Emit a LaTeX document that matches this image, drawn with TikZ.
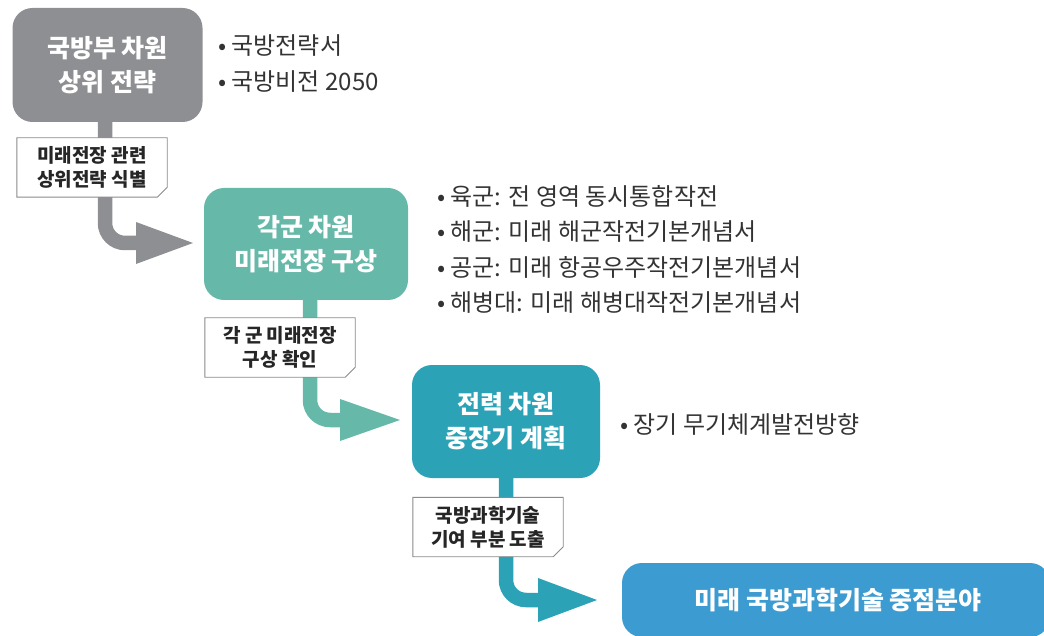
\documentclass[tikz,border=0pt]{standalone}
\usepackage{fontspec}
\setmainfont{Noto Sans CJK KR}
\usetikzlibrary{calc}
\definecolor{cgray}{HTML}{8E8F92}
\definecolor{cteal}{HTML}{66B8A9}
\definecolor{ccyan}{HTML}{2BA2B6}
\definecolor{cblue}{HTML}{3C9BD0}
\definecolor{ctext}{HTML}{333333}
\definecolor{cborder}{HTML}{8A8A8A}
\tikzset{
  mainbox/.style={rounded corners=20pt, inner sep=0pt, text=white, align=center,
    font=\bfseries\fontsize{25}{34}\selectfont},
  labelbox/.style={inner sep=0pt, align=center, text=black!85,
    minimum width=150pt, minimum height=59pt, font=\bfseries\fontsize{19}{24}\selectfont},
  labelborder/.style={draw=cborder, line width=0.9pt, fill=white},
  bullets/.style={anchor=west, align=left, text=ctext, inner sep=0pt,
    font=\fontsize{24}{35.5}\selectfont},
  stem/.style={line width=14.5pt, rounded corners=20pt},
}
\begin{document}
\begin{tikzpicture}[x=1pt,y=-1pt]
\useasboundingbox (0,0) rectangle (1044,636);
\clip (0,0) rectangle (1044,636);
% main boxes
\node[mainbox, fill=cgray, minimum width=190pt, minimum height=114pt] (box1) at (107.5,65) {국방부 차원\\상위 전략};
\node[mainbox, fill=cteal, minimum width=204pt, minimum height=112pt] (box2) at (306,244) {각군 차원\\미래전장 구상};
\node[mainbox, fill=ccyan, minimum width=188pt, minimum height=113pt] (box3) at (506,421.5) {전력 차원\\중장기 계획};
\node[mainbox, fill=cblue, minimum width=428pt, minimum height=74pt, font=\bfseries\fontsize{25}{30}\selectfont] (box4) at (836,600) {\hspace*{4pt}미래 국방과학기술 중점분야};
% arrow tips
\coordinate (t1) at (193,243);
\coordinate (t2) at (400,420);
\coordinate (t3) at (597,600);
% arrows
\draw[stem, cgray] ([xshift=-2.5pt]box1.south) |- ($(t1)+(-55,0)$);
\fill[cgray] (t1) -- ++(-57,-21) -- ++(0,42) -- cycle;
\draw[stem, cteal] ([xshift=4pt]box2.south) |- ($(t2)+(-58,0)$);
\fill[cteal] (t2) -- ++(-60,-21) -- ++(0,42) -- cycle;
\draw[stem, ccyan] (box3.south) |- ($(t3)+(-57,0)$);
\fill[ccyan] (t3) -- ++(-59,-22) -- ++(0,44) -- cycle;
% label boxes
\node[labelbox] (l1) at (92,167.5) {};
\draw[labelborder] (l1.north west) -- (l1.north east) -- ([yshift=10pt]l1.south east) -- ([xshift=-10pt]l1.south east) -- (l1.south west) -- cycle;
\node[labelbox] at (l1) {미래전장 관련\\상위전략 식별};
\node[labelbox] (l2) at (280,347.5) {};
\draw[labelborder] (l2.north west) -- (l2.north east) -- ([yshift=10pt]l2.south east) -- ([xshift=-10pt]l2.south east) -- (l2.south west) -- cycle;
\node[labelbox] at (l2) {각 군 미래전장\\구상 확인};
\node[labelbox] (l3) at (488,527) {};
\draw[labelborder] (l3.north west) -- (l3.north east) -- ([yshift=10pt]l3.south east) -- ([xshift=-10pt]l3.south east) -- (l3.south west) -- cycle;
\node[labelbox] at (l3) {국방과학기술\\기여 부분 도출};
% bullet lists
\node[bullets] (b1) at (218,63.5) {• 국방전략서\\• 국방비전 2050};
\node[bullets] (b2) at (437,249.5) {• 육군: 전 영역 동시통합작전\\• 해군: 미래 해군작전기본개념서\\• 공군: 미래 항공우주작전기본개념서\\• 해병대: 미래 해병대작전기본개념서};
\node[bullets] (b3) at (620,424) {• 장기 무기체계발전방향};
\end{tikzpicture}
\end{document}
